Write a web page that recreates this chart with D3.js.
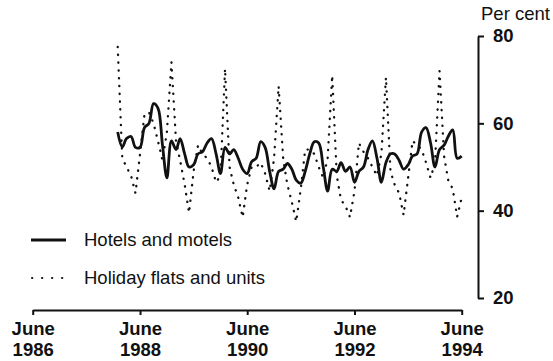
<!DOCTYPE html>
<html>
<head>
<meta charset="utf-8">
<script src="https://cdn.jsdelivr.net/npm/d3@7"></script>
<style>
  html, body { margin: 0; padding: 0; background: #fff; }
  svg { display: block; }
  text { font-family: "Liberation Sans", Arial, Helvetica, sans-serif; fill: #111; }
</style>
</head>
<body>
<svg id="chart" width="553" height="361"></svg>
<script>
// ---- Data (monthly, January 1988 to June 1994) ----
const firstMonth = { year: 1988, month: 0 };   // January 1988
const hotelsMotels = [
  58, 54.6, 56.5, 57, 54.5, 54.5, 59, 60, 64.5, 63.5, 55, 47.5,
  56, 54, 56.5, 53, 50, 50.5, 53, 53.5, 55.5, 56.5, 53, 48.5,
  54.5, 53, 54, 52, 49.5, 48.5, 51.2, 52, 55.8, 54.5, 49, 45,
  49, 49.5, 50.8, 49.5, 47, 46.3, 49, 53, 55.8, 55.5, 50, 44.5,
  49.5, 49, 51, 49, 50, 46.5, 49, 50, 54, 56, 52, 46.5,
  51, 53, 53, 51.5, 49.5, 50.5, 52.5, 53, 58, 59, 55.5, 50,
  54, 55, 57, 58.5, 52, 52.5
];
const holidayFlats = [
  77.5, 52, 50, 48, 44, 53, 62, 62.5, 60, 56, 51.5, 58,
  74, 56, 51.5, 46, 39.5, 49, 55, 53, 52, 50, 46.5, 48,
  72.5, 50, 46, 43, 38.5, 46, 50, 50, 51, 48.5, 44.5, 52,
  68.5, 52, 46, 42, 37.5, 45, 54, 54, 53, 50, 47.5, 52,
  71, 48, 42.5, 41, 38.5, 44.5, 55.5, 53.5, 52, 50, 48, 53,
  70.5, 49, 46, 44, 39, 47.5, 56, 55, 54, 51, 47.5, 51,
  72, 52.5, 47, 45, 38.6, 43
];
const xTickYears = [1986, 1988, 1990, 1992, 1994];
const xTickMonthLabel = "June";
const yTicks = [20, 40, 60, 80];
const yUnitLabel = "Per cent";
const seriesNames = ["Hotels and motels", "Holiday flats and units"];

// ---- Scales ----
const svg = d3.select("#chart");
const x = d3.scaleUtc()
  .domain([Date.UTC(1986, 5, 1), Date.UTC(1994, 5, 1)])
  .range([32.7, 461.7]);
const y = d3.scaleLinear().domain([20, 80]).range([298, 36]);

const dateOf = i => new Date(Date.UTC(firstMonth.year, firstMonth.month + i, 1));
const hotelsData = hotelsMotels.map((v, i) => ({ d: dateOf(i), v }));
const flatsData = holidayFlats.map((v, i) => ({ d: dateOf(i), v }));

// ---- X axis (ticks down, labels two lines) ----
const xAxisY = 310;
const xTickDates = xTickYears.map(yr => new Date(Date.UTC(yr, 5, 1)));
const xAxis = d3.axisBottom(x)
  .tickValues(xTickDates)
  .tickSize(5)
  .tickSizeOuter(0)
  .tickFormat(() => "");
const gx = svg.append("g").attr("transform", `translate(0,${xAxisY})`).call(xAxis);
gx.select(".domain").attr("stroke", "#111").attr("stroke-width", 2);
gx.selectAll(".tick line").attr("stroke", "#111").attr("stroke-width", 2);
gx.selectAll(".tick").each(function(d, i) {
  const t = d3.select(this).append("text")
    .attr("text-anchor", "middle")
    .style("font-size", "18.5px")
    .style("font-weight", "bold")
    .attr("fill", "#111");
  t.append("tspan").attr("x", 0).attr("y", 25).text(xTickMonthLabel);
  t.append("tspan").attr("x", 0).attr("y", 46).text(xTickYears[i]);
});

// ---- Y axis on the right (ticks to the right) ----
const yAxisX = 478;
const yAxis = d3.axisRight(y)
  .tickValues(yTicks)
  .tickSize(6)
  .tickSizeOuter(0)
  .tickPadding(9)
  .tickFormat(d3.format("d"));
const gy = svg.append("g").attr("transform", `translate(${yAxisX},0)`).call(yAxis);
gy.select(".domain").attr("stroke", "#111").attr("stroke-width", 2);
gy.selectAll(".tick line").attr("stroke", "#111").attr("stroke-width", 2);
gy.selectAll(".tick text")
  .style("font-size", "18.5px")
  .style("font-weight", "bold")
  .style("font-family", "'Liberation Sans', Arial, sans-serif")
  .attr("fill", "#111");

svg.append("text")
  .attr("x", 481).attr("y", 20)
  .style("font-size", "18.5px")
  .text(yUnitLabel);

// ---- Lines ----
const flatsLine = d3.line().x(p => x(p.d)).y(p => y(p.v)).curve(d3.curveLinear);
svg.append("path")
  .datum(flatsData)
  .attr("d", flatsLine)
  .attr("fill", "none")
  .attr("stroke", "#111")
  .attr("stroke-width", 2.3)
  .attr("stroke-linecap", "round")
  .attr("stroke-dasharray", "0.3,7.5");

const hotelsLine = d3.line().x(p => x(p.d)).y(p => y(p.v)).curve(d3.curveCatmullRom.alpha(0.5));
svg.append("path")
  .datum(hotelsData)
  .attr("d", hotelsLine)
  .attr("fill", "none")
  .attr("stroke", "#111")
  .attr("stroke-width", 2.8)
  .attr("stroke-linejoin", "round");

// ---- Legend ----
const legend = svg.append("g");
legend.append("line")
  .attr("x1", 31).attr("x2", 66).attr("y1", 240).attr("y2", 240)
  .attr("stroke", "#111").attr("stroke-width", 2.8);
legend.append("text")
  .attr("x", 84).attr("y", 245.5)
  .style("font-size", "18.5px")
  .text(seriesNames[0]);
legend.append("line")
  .attr("x1", 32).attr("x2", 64).attr("y1", 278).attr("y2", 278)
  .attr("stroke", "#111").attr("stroke-width", 2)
  .attr("stroke-linecap", "round")
  .attr("stroke-dasharray", "0.3,9.7");
legend.append("text")
  .attr("x", 84).attr("y", 283.5)
  .style("font-size", "18.5px")
  .text(seriesNames[1]);
</script>
</body>
</html>
